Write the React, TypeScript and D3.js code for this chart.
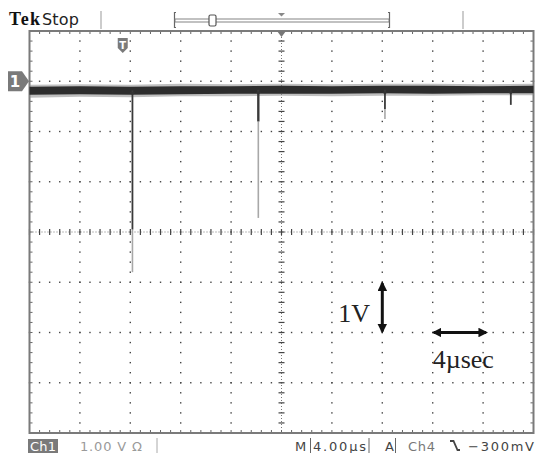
import * as d3 from 'd3';

const W = 536;
const H = 453;
const PLOT = { left: 29.5, right: 533.5, top: 31, bottom: 433 };

// horizontal: 4 µs/div, 10 div ; vertical: 1 V/div, 8 div
const timeDomain = [-20, 20];
const voltDomain = [-4, 4];
const timePerDiv = 4;
const voltPerDiv = 1;

// trace envelope (noisy band)
const envTimes = [-20, -16, -12, -8, -4, 0, 4, 8, 12, 16, 20];
const envHigh = [2.89, 2.9, 2.89, 2.9, 2.9, 2.91, 2.9, 2.91, 2.91, 2.9, 2.91];
const envLow = [2.73, 2.74, 2.73, 2.74, 2.75, 2.75, 2.75, 2.76, 2.75, 2.76, 2.76];
const haloHigh = [2.93, 2.94, 2.93, 2.95, 2.94, 2.95, 2.94, 2.95, 2.95, 2.94, 2.95];
const haloLow = [2.67, 2.69, 2.68, 2.7, 2.7, 2.71, 2.7, 2.71, 2.71, 2.72, 2.72];

// glitches: position (µs), dark tip (V), faint tail (V)
const spikeTimes = [-11.83, -1.84, 8.21, 18.2];
const spikeDark = [0.05, 2.2, 2.45, 2.53];
const spikeFaint = [-0.8, 0.28, 2.25, 2.53];

const triggerTime = -12.6;
const markerVolt = 3;

const headerLabels = ['Tek', 'Stop'];
const footerLabels = ['Ch1', '1.00 V \u03a9', 'M', '4.00\u00b5s', 'A', 'Ch4', '\u2212300mV'];

// scale-bar annotation: 1 div each way
const vBarTime = 8;
const vBarVolts = [-1, -2];
const hBarTimes = [12, 16];
const hBarVolt = -2;

export default function App() {
  const x = d3.scaleLinear().domain(timeDomain).range([PLOT.left, PLOT.right]);
  const y = d3.scaleLinear().domain(voltDomain).range([PLOT.bottom, PLOT.top]);

  const majorT = d3.range(timeDomain[0] + timePerDiv, timeDomain[1], timePerDiv);
  const majorV = d3.range(voltDomain[0] + voltPerDiv, voltDomain[1], voltPerDiv);
  const minorT = d3.range(timeDomain[0], timeDomain[1] + 0.001, timePerDiv / 5);
  const minorV = d3.range(voltDomain[0], voltDomain[1] + 0.001, voltPerDiv / 5);

  const band = (hi: number[], lo: number[]) => d3.area<number>()
    .x(t => x(t))
    .y0((_, i) => y(lo[i]))
    .y1((_, i) => y(hi[i]))(envTimes) ?? '';

  const dots: JSX.Element[] = [];
  majorT.forEach(t => {
    if (t === 0) return;
    minorV.forEach(v => dots.push(
      <rect key={`vt${t}_${v}`} x={x(t) - 0.7} y={y(v) - 0.7} width={1.4} height={1.4} fill="#444" />
    ));
  });
  majorV.forEach(v => {
    if (v === 0) return;
    minorT.forEach(t => dots.push(
      <rect key={`hv${v}_${t}`} x={x(t) - 0.7} y={y(v) - 0.7} width={1.4} height={1.4} fill="#444" />
    ));
  });

  const ticks: JSX.Element[] = [];
  minorT.forEach(t => {
    ticks.push(<line key={`ct${t}`} x1={x(t)} x2={x(t)} y1={y(0) - 3} y2={y(0) + 3} stroke="#444" strokeWidth={1.2} />);
    ticks.push(<line key={`bt${t}`} x1={x(t)} x2={x(t)} y1={PLOT.top} y2={PLOT.top + 3} stroke="#666" strokeWidth={1} />);
    ticks.push(<line key={`bb${t}`} x1={x(t)} x2={x(t)} y1={PLOT.bottom - 3} y2={PLOT.bottom} stroke="#666" strokeWidth={1} />);
  });
  minorV.forEach(v => {
    ticks.push(<line key={`cv${v}`} x1={x(0) - 3} x2={x(0) + 3} y1={y(v)} y2={y(v)} stroke="#444" strokeWidth={1.2} />);
    ticks.push(<line key={`bl${v}`} x1={PLOT.left} x2={PLOT.left + 3} y1={y(v)} y2={y(v)} stroke="#666" strokeWidth={1} />);
    ticks.push(<line key={`br${v}`} x1={PLOT.right - 3} x2={PLOT.right} y1={y(v)} y2={y(v)} stroke="#666" strokeWidth={1} />);
  });

  const base = (t: number) => {
    const i = Math.min(d3.bisectLeft(envTimes, t), envTimes.length - 1);
    return (envHigh[i] + envLow[i]) / 2;
  };

  const tx = x(triggerTime);
  const my = y(markerVolt);

  return (
    <svg width={W} height={H} style={{ position: 'absolute', left: 0, top: 0, background: '#fff' }}
      fontFamily='"DejaVu Sans", sans-serif'>
      {/* header */}
      <text x={9} y={25} fontFamily='"Liberation Serif", serif' fontWeight="bold" fontSize={18} fill="#111" textLength={31}>{headerLabels[0]}</text>
      <text x={42} y={24.5} fontSize={16} fill="#222" textLength={37}>{headerLabels[1]}</text>
      <line x1={101} x2={101} y1={11} y2={29} stroke="#999" />
      <line x1={463} x2={463} y1={11} y2={29} stroke="#999" />
      <path d="M176,12.5 H174.5 V27.5 H176" fill="none" stroke="#666" strokeWidth={1.2} />
      <path d="M388,12.5 H389.5 V27.5 H388" fill="none" stroke="#666" strokeWidth={1.2} />
      <rect x={175} y={19} width={214} height={3} fill="#fff" stroke="#777" strokeWidth={0.9} />
      <rect x={209} y={15} width={7} height={11} rx={1.5} fill="#fff" stroke="#555" strokeWidth={1.2} />
      <path d={`M${x(0) - 3.5},13 H${x(0) + 3.5} L${x(0)},16.5 Z`} fill="#888" />

      {/* grid */}
      {dots}
      <line x1={PLOT.left} x2={PLOT.right} y1={y(0)} y2={y(0)} stroke="#777" strokeDasharray="1 2" />
      <line x1={x(0)} x2={x(0)} y1={PLOT.top} y2={PLOT.bottom} stroke="#777" strokeDasharray="1 2" />
      {ticks}
      <rect x={PLOT.left} y={PLOT.top} width={PLOT.right - PLOT.left} height={PLOT.bottom - PLOT.top}
        fill="none" stroke="#7a7a7a" strokeWidth={2} />

      {/* trace */}
      <path d={band(haloHigh, haloLow)} fill="#8a8a8a" opacity={0.55} />
      <path d={band(envHigh, envLow)} fill="#2d2d2d" />
      {spikeTimes.map((t, i) => (
        <g key={`sp${i}`}>
          <line x1={x(t)} x2={x(t)} y1={y(spikeDark[i])} y2={y(spikeFaint[i])} stroke="#a8a8a8" strokeWidth={1.6} />
          <line x1={x(t)} x2={x(t)} y1={y(base(t))} y2={y(spikeDark[i])} stroke="#3a3a3a" strokeWidth={i === 1 ? 2.4 : 1.8} />
          <path d={`M${x(t) - 3},${y(base(t)) + 2} L${x(t)},${y(base(t)) + 5} L${x(t) + 3},${y(base(t)) + 2}`} fill="#333" />
        </g>
      ))}

      {/* trigger position markers */}
      <path d={`M${x(0) - 4.5},${PLOT.top} H${x(0) + 4.5} L${x(0)},${PLOT.top + 6} Z`} fill="#777" />
      <path d={`M${tx - 5},38 H${tx + 5} V48 L${tx},53 L${tx - 5},48 Z`} fill="#7a7a7a" />
      <text x={tx} y={49} textAnchor="middle" fontSize={10} fontWeight="bold" fill="#fff">T</text>

      {/* channel 1 ground marker */}
      <path d={`M8,${my - 10} H22 L29,${my} L22,${my + 10} H8 Z`} fill="#7a7a7a" />
      <text x={15} y={my + 6} textAnchor="middle" fontSize={15} fontWeight="bold" fill="#fff">1</text>

      {/* scale bars */}
      <defs>
        <marker id="ah" viewBox="0 0 10 10" refX={8} refY={5} markerWidth={3.2} markerHeight={3.2} orient="auto-start-reverse">
          <path d="M0,0 L10,5 L0,10 Z" fill="#111" />
        </marker>
      </defs>
      <line x1={x(vBarTime)} x2={x(vBarTime)} y1={y(vBarVolts[0]) + 1} y2={y(vBarVolts[1]) - 1}
        stroke="#111" strokeWidth={3} markerStart="url(#ah)" markerEnd="url(#ah)" />
      <line x1={x(hBarTimes[0]) + 1} x2={x(hBarTimes[1]) + 3} y1={y(hBarVolt)} y2={y(hBarVolt)}
        stroke="#111" strokeWidth={3} markerStart="url(#ah)" markerEnd="url(#ah)" />
      <text x={x(vBarTime) - 44} y={y(-1.8)} fontFamily='"Liberation Serif", serif' fontSize={26} fill="#222">1V</text>
      <text x={x(hBarTimes[0])} y={y(-2.7)} fontFamily='"Liberation Serif", serif' fontSize={26} fill="#222">4{'\u00b5'}sec</text>

      {/* footer */}
      <rect x={28} y={439} width={30} height={14} fill="#7a7a7a" />
      <text x={30} y={451} fontSize={13} fill="#fff" textLength={26}>{footerLabels[0]}</text>
      <text x={80} y={451} fontSize={13} fill="#9a9a9a" textLength={62}>{footerLabels[1]}</text>
      <line x1={157} x2={157} y1={438} y2={453} stroke="#aaa" />
      <text x={295} y={451} fontSize={13} fill="#444">{footerLabels[2]}</text>
      <line x1={310.5} x2={310.5} y1={438} y2={453} stroke="#666" />
      <text x={313} y={451} fontSize={13} fill="#444" textLength={53}>{footerLabels[3]}</text>
      <line x1={369} x2={369} y1={438} y2={453} stroke="#666" />
      <text x={385} y={451} fontSize={13} fill="#444">{footerLabels[4]}</text>
      <line x1={395.5} x2={395.5} y1={438} y2={453} stroke="#666" />
      <text x={408} y={451} fontSize={13} fill="#777" textLength={27}>{footerLabels[5]}</text>
      <path d="M450,441 H453.5 L457.5,450 H460" fill="none" stroke="#444" strokeWidth={1.8} />
      <text x={468} y={451} fontSize={13} fill="#444" textLength={66}>{footerLabels[6]}</text>
    </svg>
  );
}
